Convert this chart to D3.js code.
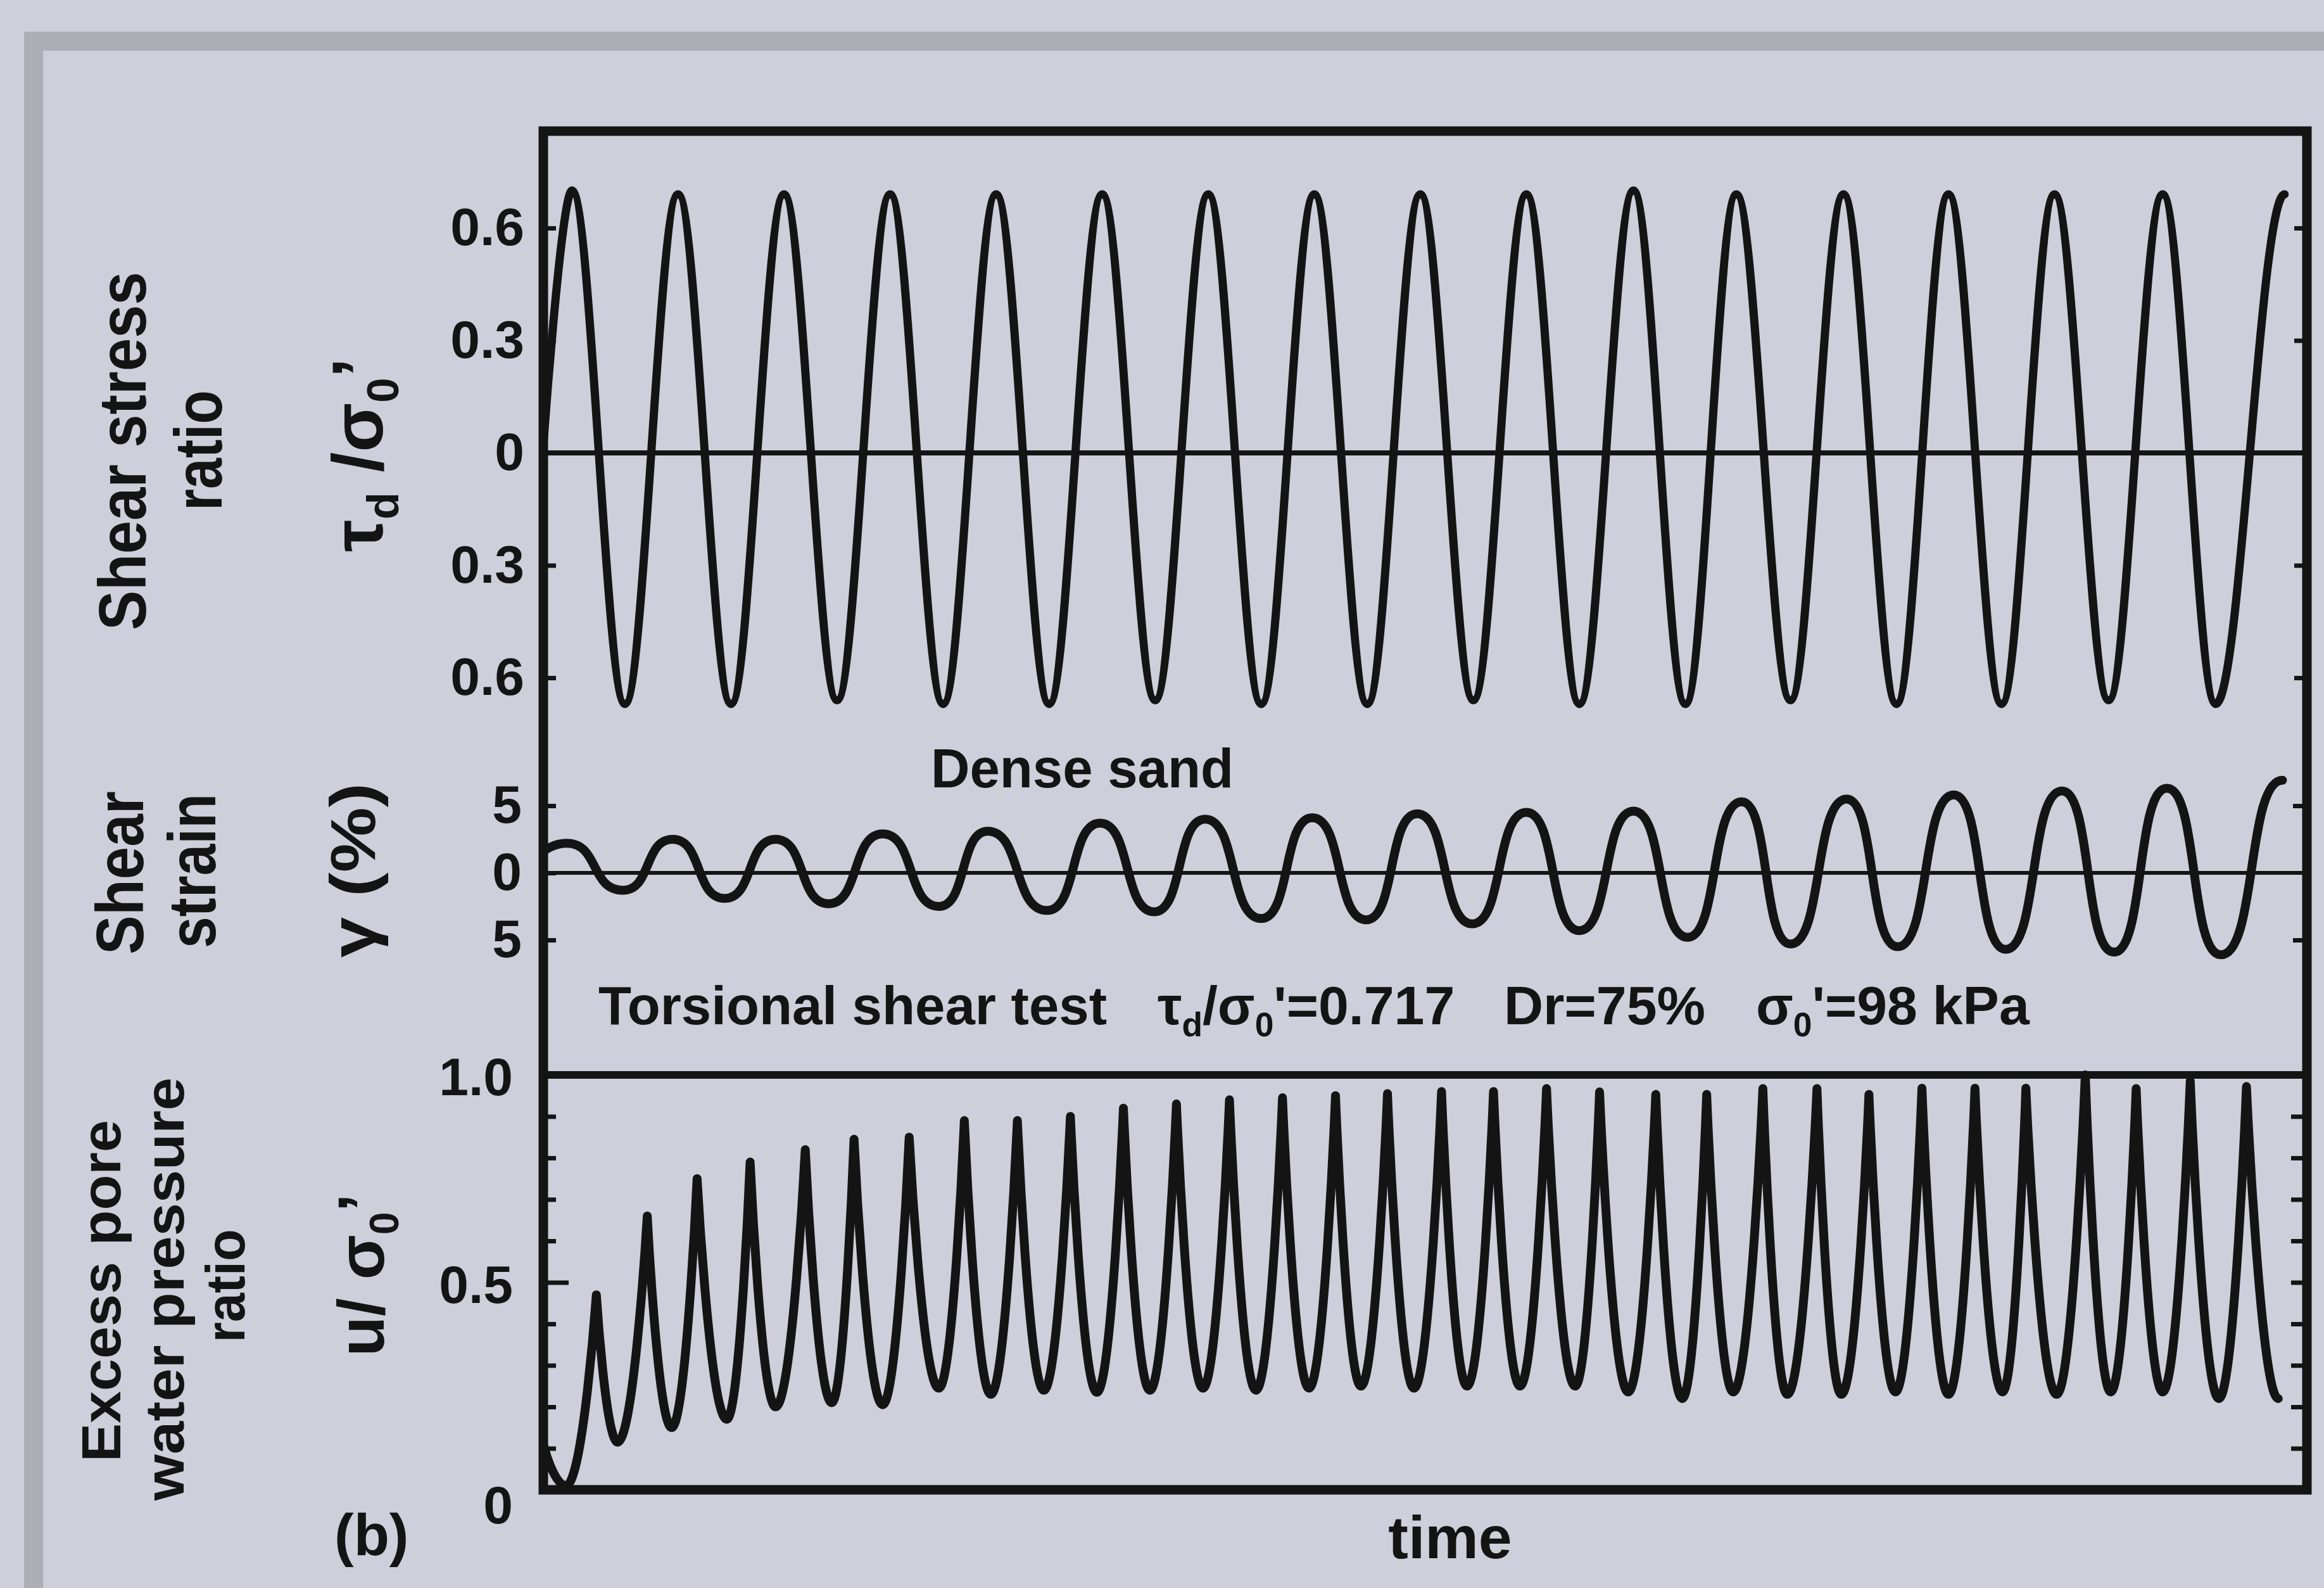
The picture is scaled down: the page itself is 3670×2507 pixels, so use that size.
<!DOCTYPE html>
<html>
<head>
<meta charset="utf-8">
<script src="https://cdn.jsdelivr.net/npm/d3@7"></script>
<style>
  html, body { margin: 0; padding: 0; background: #cfcedb; }
  svg text { font-family: "Liberation Sans", Arial, sans-serif; font-weight: bold; fill: #141414; }
  svg text.narrow { font-family: "Liberation Sans Narrow", "Liberation Sans", Arial, sans-serif; }
</style>
</head>
<body>
<div id="chart-area"></div>
<script>
// ---- values ----
// time axis has no ticks; unit = one loading cycle
var timeMax = 16.63;

// shear stress ratio, turning points of the cyclic load
var stressTime = [0, 0.27, 0.77, 1.27, 1.77, 2.27, 2.77, 3.27, 3.77, 4.27, 4.77, 5.27, 5.77, 6.27, 6.77,
	7.27, 7.77, 8.27, 8.77, 9.27, 9.77, 10.28, 10.77, 11.25, 11.76, 12.26, 12.76, 13.25, 13.75,
	14.25, 14.76, 15.27, 15.77, 16.42];
var stressRatio = [0.02, 0.70, -0.67, 0.69, -0.67, 0.69, -0.66, 0.69, -0.67, 0.69, -0.67, 0.69, -0.66, 0.69, -0.67,
	0.69, -0.67, 0.69, -0.66, 0.69, -0.67, 0.70, -0.67, 0.69, -0.66, 0.69, -0.67, 0.69, -0.67,
	0.69, -0.66, 0.69, -0.67, 0.69];

// shear strain (%), turning points
var strainTime = [0, 0.22, 0.75, 1.22, 1.71, 2.19, 2.69, 3.20, 3.73, 4.19, 4.75, 5.25, 5.76, 6.24, 6.77,
	7.25, 7.76, 8.24, 8.76, 9.27, 9.77, 10.28, 10.79, 11.30, 11.76, 12.29, 12.77, 13.30, 13.79,
	14.32, 14.81, 15.31, 15.82, 16.40];
var strainPct = [1.6, 2.2, -1.3, 2.5, -1.9, 2.5, -2.3, 2.9, -2.5, 3.1, -2.8, 3.7, -2.9, 4.0, -3.4,
	4.1, -3.5, 4.4, -3.8, 4.5, -4.3, 4.6, -4.8, 5.3, -5.3, 5.5, -5.5, 5.8, -5.7,
	6.1, -5.9, 6.3, -6.1, 6.9];

// excess pore water pressure ratio: start, first trough, then spike / trough pairs
var poreTime = [0, 0.215,
	0.50, 0.70, 0.98, 1.21, 1.45, 1.73, 1.95, 2.19, 2.47, 2.72, 2.93, 3.20, 3.45, 3.73, 3.97, 4.22,
	4.47, 4.72, 4.97, 5.22, 5.47, 5.72, 5.97, 6.22, 6.47, 6.72, 6.97, 7.22, 7.47, 7.71, 7.96, 8.21,
	8.47, 8.71, 8.96, 9.21, 9.46, 9.73, 9.96, 10.23, 10.49, 10.74, 10.97, 11.22, 11.50, 11.73,
	12.01, 12.24, 12.50, 12.75, 13.00, 13.25, 13.50, 13.76, 13.98, 14.27, 14.54, 14.78, 15.02, 15.27,
	15.53, 15.80, 16.06, 16.36];
var poreRatio = [0.11, 0.01,
	0.47, 0.115, 0.66, 0.15, 0.75, 0.17, 0.79, 0.20, 0.82, 0.21, 0.845, 0.205, 0.85, 0.245, 0.89, 0.23,
	0.89, 0.24, 0.90, 0.235, 0.92, 0.24, 0.93, 0.245, 0.94, 0.24, 0.945, 0.245, 0.95, 0.25, 0.955, 0.245,
	0.96, 0.25, 0.96, 0.25, 0.967, 0.25, 0.959, 0.236, 0.953, 0.22, 0.953, 0.236, 0.967, 0.23,
	0.967, 0.23, 0.953, 0.236, 0.968, 0.23, 0.968, 0.236, 0.968, 0.23, 1.0, 0.236, 0.967, 0.236,
	0.986, 0.22, 0.972, 0.22];

// tick values
var stressTicks = [-0.6, -0.3, 0, 0.3, 0.6];
var strainTicks = [-5, 0, 5];
var poreTicks = [0, 0.5, 1.0];
var poreMinor = [0.1, 0.2, 0.3, 0.4, 0.6, 0.7, 0.8, 0.9];

// ---- layout ----
var W = 3670, H = 2507;
var box = { left: 858, right: 3643, top: 207, bottom: 2352 };
var ink = "#141414";

var svg = d3.select("#chart-area")
	.append("svg")
		.attr("width", W)
		.attr("height", H);

svg.append("rect").attr("width", W).attr("height", H).attr("fill", "#cfcedb");
//= grey edge of the photographed sheet
svg.append("rect").attr("x", 38).attr("y", 50).attr("width", W - 38).attr("height", 30).attr("fill", "#adadb6");
svg.append("rect").attr("x", 38).attr("y", 50).attr("width", 30).attr("height", H - 50).attr("fill", "#adadb6");

// Scales
var x = d3.scaleLinear().domain([0, timeMax]).range([box.left, box.right]);
var yStress = d3.scaleLinear().domain([-0.6, 0.6]).range([1070, 360]);
var yStrain = d3.scaleLinear().domain([-5, 5]).range([1484, 1272]);
var yPore = d3.scaleLinear().domain([0, 1]).range([box.bottom, 1697]);

// curve through turning points: flat at each turn, optionally a sharp tip at the peaks
function curveTurn(k, sharpPeaks) {
	return function(context) {
		var x0, y0, i;
		return {
			areaStart: function() {}, areaEnd: function() {},
			lineStart: function() { i = 0; },
			lineEnd: function() {},
			point: function(px, py) {
				px = +px; py = +py;
				if (i === 0) context.moveTo(px, py);
				else {
					var dx = px - x0;
					var c1x = i === 1 ? x0 : x0 + k * dx;
					var c2x = px - k * dx;
					if (sharpPeaks) {
						if (py < y0) c2x = px;   // rising into a spike
						else c1x = x0;           // dropping out of a spike
					}
					context.bezierCurveTo(c1x, y0, c2x, py, px, py);
				}
				x0 = px; y0 = py; i++;
			}
		};
	};
}

// zero lines
svg.append("line").attr("x1", box.left).attr("x2", box.right)
	.attr("y1", yStress(0)).attr("y2", yStress(0))
	.attr("stroke", ink).attr("stroke-width", 8);
svg.append("line").attr("x1", box.left).attr("x2", box.right)
	.attr("y1", yStrain(0)).attr("y2", yStrain(0))
	.attr("stroke", ink).attr("stroke-width", 6);

// Series
function drawSeries(t, v, yScale, curve, width) {
	var line = d3.line()
		.x(function(d) { return x(d[0]); })
		.y(function(d) { return yScale(d[1]); })
		.curve(curve);
	svg.append("path")
		.datum(d3.zip(t, v))
		.attr("d", line)
		.attr("fill", "none")
		.attr("stroke", ink)
		.attr("stroke-width", width)
		.attr("stroke-linejoin", "round")
		.attr("stroke-linecap", "round");
}
drawSeries(stressTime, stressRatio, yStress, curveTurn(0.36, false), 13);
drawSeries(strainTime, strainPct, yStrain, curveTurn(0.58, false), 14);
drawSeries(poreTime, poreRatio, yPore, curveTurn(0.55, true), 14);

// frame and panel divider
svg.append("rect")
	.attr("x", box.left).attr("y", box.top)
	.attr("width", box.right - box.left).attr("height", box.bottom - box.top)
	.attr("fill", "none").attr("stroke", ink).attr("stroke-width", 15);
svg.append("line").attr("x1", box.left).attr("x2", box.right)
	.attr("y1", yPore(1)).attr("y2", yPore(1))
	.attr("stroke", ink).attr("stroke-width", 12);

// Axis
function styleAxis(g) {
	g.select(".domain").remove();
	g.selectAll(".tick line").attr("stroke", ink).attr("stroke-width", 7);
	g.selectAll(".tick text").attr("fill", ink).attr("font-size", null)
		.style("font-size", "84px");
}
var absFormat = function(d) { return d === 0 ? "0" : d3.format(".1f")(Math.abs(d)); };

svg.append("g").attr("transform", "translate(" + box.left + ",0)")
	.call(d3.axisLeft(yStress).tickValues(stressTicks).tickSize(-20).tickPadding(30).tickFormat(absFormat))
	.call(styleAxis);
svg.append("g").attr("transform", "translate(" + box.right + ",0)")
	.call(d3.axisRight(yStress).tickValues([-0.6, -0.3, 0.3, 0.6]).tickSize(-20).tickFormat(""))
	.call(styleAxis);

svg.append("g").attr("transform", "translate(" + box.left + ",0)")
	.call(d3.axisLeft(yStrain).tickValues(strainTicks).tickSize(-20).tickPadding(34)
		.tickFormat(function(d) { return Math.abs(d); }))
	.call(styleAxis);
svg.append("g").attr("transform", "translate(" + box.right + ",0)")
	.call(d3.axisRight(yStrain).tickValues([-5, 5]).tickSize(-22).tickFormat(""))
	.call(styleAxis);

svg.append("g").attr("transform", "translate(" + box.left + ",0)")
	.call(d3.axisLeft(yPore).tickValues(poreMinor).tickSize(-20).tickFormat(""))
	.call(styleAxis);
var poreAxis = svg.append("g").attr("transform", "translate(" + box.left + ",0)")
	.call(d3.axisLeft(yPore).tickValues(poreTicks).tickSize(-40).tickPadding(48).tickFormat(d3.format(".1f")))
	.call(styleAxis);
poreAxis.selectAll(".tick text")
	.text(function(d) { return d === 0 ? "0" : d3.format(".1f")(d); })
	.attr("dy", function(d) { return d === 0 ? "0.62em" : "0.38em"; });
svg.append("g").attr("transform", "translate(" + box.right + ",0)")
	.call(d3.axisRight(yPore).tickValues(poreMinor.concat([0.5])).tickSize(-25).tickFormat(""))
	.call(styleAxis);

// Labels
function vText(px, py, size, cls) {
	return svg.append("text")
		.attr("class", cls || null)
		.attr("transform", "translate(" + px + "," + py + ") rotate(-90)")
		.attr("font-size", size)
		.attr("text-anchor", "middle");
}
function sub(t, s, size) {
	t.append("tspan").attr("font-size", size * 0.62).attr("dy", size * 0.22).text(s);
}
function back(t, s, size) {
	t.append("tspan").attr("dy", -size * 0.22).text(s);
}

vText(230, 712, 105, "narrow").attr("textLength", 566).attr("lengthAdjust", "spacingAndGlyphs").text("Shear stress");
vText(350, 711, 105, "narrow").attr("textLength", 190).attr("lengthAdjust", "spacingAndGlyphs").text("ratio");
vText(226, 1378, 105, "narrow").attr("textLength", 258).attr("lengthAdjust", "spacingAndGlyphs").text("Shear");
vText(340, 1375, 105, "narrow").attr("textLength", 244).attr("lengthAdjust", "spacingAndGlyphs").text("strain");
vText(190, 2038, 88).attr("textLength", 540).attr("lengthAdjust", "spacingAndGlyphs").text("Excess pore");
vText(290, 2035, 88).attr("textLength", 668).attr("lengthAdjust", "spacingAndGlyphs").text("water pressure");
vText(386, 2030, 88).attr("textLength", 179).attr("lengthAdjust", "spacingAndGlyphs").text("ratio");

var tauLabel = vText(604, 718, 114);
tauLabel.append("tspan").text("τ");
sub(tauLabel, "d", 114);
back(tauLabel, " /σ", 114);
sub(tauLabel, "0", 114);
back(tauLabel, "’", 114);

vText(592, 1374, 100).attr("textLength", 276).attr("lengthAdjust", "spacingAndGlyphs").text("γ (%)");

var uLabel = vText(606, 2013, 104);
uLabel.append("tspan").text("u/ σ");
sub(uLabel, "0", 104);
back(uLabel, "’", 104);

svg.append("text").attr("x", 1470).attr("y", 1243).attr("font-size", 88)
	.attr("textLength", 478).attr("lengthAdjust", "spacingAndGlyphs").text("Dense sand");

var note = 86, noteY = 1617;
svg.append("text").attr("x", 945).attr("y", noteY).attr("font-size", note)
	.attr("textLength", 803).attr("lengthAdjust", "spacingAndGlyphs").text("Torsional shear test");
var ratioNote = svg.append("text").attr("x", 1828).attr("y", noteY).attr("font-size", note);
ratioNote.append("tspan").text("τ");
sub(ratioNote, "d", note);
back(ratioNote, "/σ", note);
sub(ratioNote, "0", note);
back(ratioNote, "'=0.717", note);
svg.append("text").attr("x", 2375).attr("y", noteY).attr("font-size", note).text("Dr=75%");
var sigmaNote = svg.append("text").attr("x", 2773).attr("y", noteY).attr("font-size", note);
sigmaNote.append("tspan").text("σ");
sub(sigmaNote, "0", note);
back(sigmaNote, "'=98 kPa", note);

svg.append("text").attr("x", 528).attr("y", 2455).attr("font-size", 92).text("(b)");
svg.append("text").attr("x", 2290).attr("y", 2460).attr("font-size", 95)
	.attr("text-anchor", "middle").text("time");
</script>
</body>
</html>
